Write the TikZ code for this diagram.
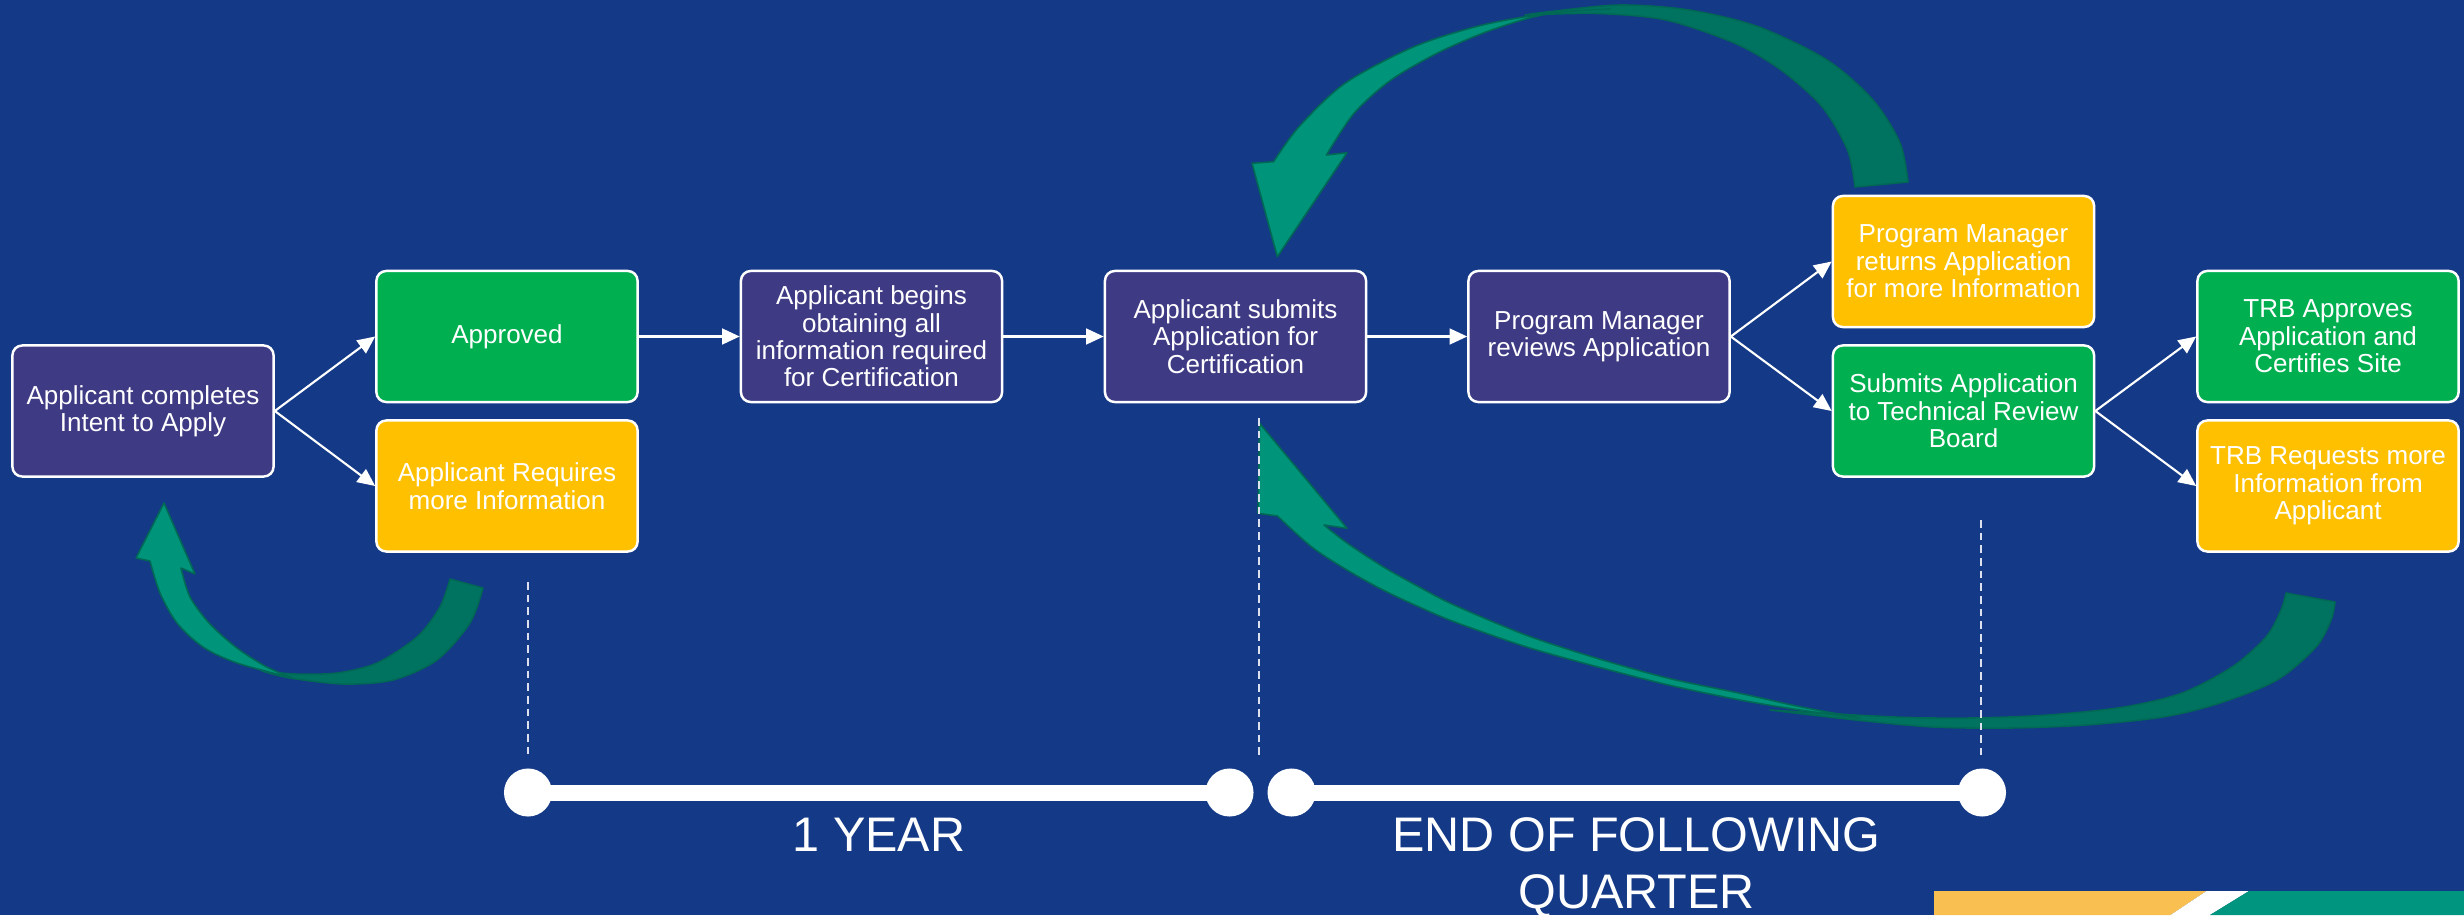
\documentclass[tikz,border=0pt]{standalone}
\usepackage{fontspec}
\setmainfont{Liberation Sans}
\usetikzlibrary{arrows.meta}
\definecolor{bgblue}{RGB}{20,57,135}
\definecolor{boxpurple}{RGB}{62,58,132}
\definecolor{boxgreen}{RGB}{0,176,80}
\definecolor{boxyellow}{RGB}{255,192,0}
\definecolor{teallight}{RGB}{0,148,122}
\definecolor{tealdark}{RGB}{0,115,96}
\definecolor{tealline}{RGB}{0,104,84}
\definecolor{stripeorange}{RGB}{249,191,80}
\definecolor{stripeteal}{RGB}{0,149,126}
\tikzset{
  box/.style={draw=white, line width=0.7pt, rounded corners=2.8pt, minimum width=2.61cm,
    minimum height=1.31cm, inner sep=0pt, align=center, text=white,
    font=\fontsize{7.4pt}{7.8pt}\selectfont},
  purplebox/.style={box, fill=boxpurple},
  greenbox/.style={box, fill=boxgreen},
  yellowbox/.style={box, fill=boxyellow},
  flow/.style={draw=white, line width=0.6pt, -{Triangle[length=5pt,width=4.5pt]}},
  guide/.style={draw=white!85!bgblue, line width=0.35pt, dash pattern=on 2.2pt off 1.4pt},
  dot/.style={circle, fill=white, minimum size=0.48cm, inner sep=0pt},
  bar/.style={draw=white, line width=4.55pt, shorten <=-3pt, shorten >=-3pt},
  lightband/.style={fill=teallight, draw=tealline, line width=0.45pt, line join=round},
  darkband/.style={fill=tealdark, draw=tealline, line width=0.45pt, line join=round},
  spanlabel/.style={text=white, font=\fontsize{13.8pt}{16.2pt}\selectfont, align=center, inner sep=0pt, anchor=north}
}
\begin{document}
\begin{tikzpicture}[x=0.01cm, y=-0.01cm]
\useasboundingbox (0,0) rectangle (2464,915);
\fill[bgblue] (0,0) rectangle (2464,915);

% bottom-right stripe
\fill[stripeorange] (1934,891) -- (2206.5,891) -- (2170.5,915) -- (1934,915) -- cycle;
\fill[white] (2206.5,891) -- (2249,891) -- (2210,915) -- (2170.5,915) -- cycle;
\fill[stripeteal] (2249,891) -- (2464,891) -- (2464,915) -- (2210,915) -- cycle;

% curved arrow A (bottom left)
\filldraw[darkband] plot[smooth] coordinates {(262,671) (290,678) (343,684) (393,680) (437,660) (470,623) (483,588)}
  -- (450,579) -- plot[smooth] coordinates {(450,579) (440,607) (417,637) (377,663) (337,673) (295,674) (262,671)} -- cycle;
\filldraw[lightband] plot[smooth] coordinates {(150,561) (160,593) (177,623) (203,647) (237,663) (292,678)}
  -- plot[smooth] coordinates {(292,678) (265,666) (237,648) (210,624) (190,597) (181,568)}
  -- (195,574) -- (164,503) -- (136,558) -- cycle;

% curved arrow B (top)
\filldraw[darkband] plot[smooth] coordinates {(1525,15) (1551,11.5) (1620,5) (1689,10) (1758,26.7) (1827,60) (1873,100) (1900,143) (1908,182)}
  -- (1855,187) -- plot[smooth] coordinates {(1855,187) (1847.5,150) (1822,106.7) (1781,70) (1735,43.3) (1666,20) (1597,13.5) (1525,15)} -- cycle;
\filldraw[lightband] plot[smooth] coordinates {(1273.6,161.7) (1299,126.7) (1345,83.3) (1414,46.7) (1482.5,25) (1551,13) (1610,9)}
  -- plot[smooth] coordinates {(1610,9) (1561,12) (1528,18.3) (1482.5,33.3) (1437,53.3) (1391,80) (1354,113.3) (1326.4,155)}
  -- (1347,152.7) -- (1277.3,256.7) -- (1252,163.3) -- cycle;

% curved arrow C (bottom right)
\filldraw[darkband] plot[smooth] coordinates {(1770,710) (1856,720) (1933,727) (2010,728) (2086,725) (2163,717) (2220,703) (2277,680) (2316,647) (2331,620) (2335,602)}
  -- (2286,593) -- plot[smooth] coordinates {(2286,593) (2281,610) (2266,637) (2232,667) (2182,693) (2124,707) (2048,715) (1971,718) (1895,717) (1770,710)} -- cycle;
\filldraw[lightband] plot[smooth] coordinates {(1277.5,516) (1311.4,546.7) (1347,570) (1383,590) (1418.6,606.7) (1454,621.7) (1525.7,646.7) (1597,666.7) (1668.6,685) (1740,700) (1800,710) (1860,718)}
  -- plot[smooth] coordinates {(1860,718) (1800,706.7) (1740,693.3) (1668.6,678.3) (1597,658.3) (1525.7,635) (1454,605) (1418.6,586.7) (1383,566.7) (1347,543) (1324,525)}
  -- (1347,528.3) -- (1259.6,423.3) -- (1257.9,513.3) -- cycle;

% boxes
\node[purplebox] (intent)   at (143,411)    {Applicant completes\\Intent to Apply};
\node[greenbox]  (approved) at (507,336.5)  {Approved};
\node[yellowbox] (reqinfo)  at (507,486)    {Applicant Requires\\more Information};
\node[purplebox] (begins)   at (871.5,336.5) {Applicant begins\\obtaining all\\information required\\for Certification};
\node[purplebox] (submits)  at (1235.5,336.5) {Applicant submits\\Application for\\Certification};
\node[purplebox] (reviews)  at (1599,336.5) {Program Manager\\reviews Application};
\node[yellowbox] (returns)  at (1963.5,261.5) {Program Manager\\returns Application\\for more Information};
\node[greenbox]  (totrb)    at (1963.5,411) {Submits Application\\to Technical Review\\Board};
\node[greenbox]  (trbok)    at (2328,336.5) {TRB Approves\\Application and\\Certifies Site};
\node[yellowbox] (trbreq)   at (2328,486)   {TRB Requests more\\Information from\\Applicant};

% flow connectors
\draw[flow] (intent.east) -- (approved.west);
\draw[flow] (intent.east) -- (reqinfo.west);
\draw[flow] (approved) -- (begins);
\draw[flow] (begins) -- (submits);
\draw[flow] (submits) -- (reviews);
\draw[flow] (reviews.east) -- (returns.west);
\draw[flow] (reviews.east) -- (totrb.west);
\draw[flow] (totrb.east) -- (trbok.west);
\draw[flow] (totrb.east) -- (trbreq.west);

% dashed guides
\coordinate (g1a) at (528,582);  \coordinate (g1b) at (528,755);
\coordinate (g2a) at (1259,418); \coordinate (g2b) at (1259,755);
\coordinate (g3a) at (1981,520); \coordinate (g3b) at (1981,755);
\draw[guide] (g1a) -- (g1b);
\draw[guide] (g2a) -- (g2b);
\draw[guide] (g3a) -- (g3b);

% timeline
\node[dot] (t1) at (528,792.5) {};
\node[dot] (t2) at (1229.5,792.5) {};
\node[dot] (t3) at (1291.5,792.5) {};
\node[dot] (t4) at (1982,792.5) {};
\draw[bar] (t1) -- (t2);
\draw[bar] (t3) -- (t4);

\node[spanlabel] (year) at (879,817) {1 YEAR};
\node[spanlabel] (quarter) at (1636.5,817) {END OF FOLLOWING\\QUARTER};
\end{tikzpicture}
\end{document}
